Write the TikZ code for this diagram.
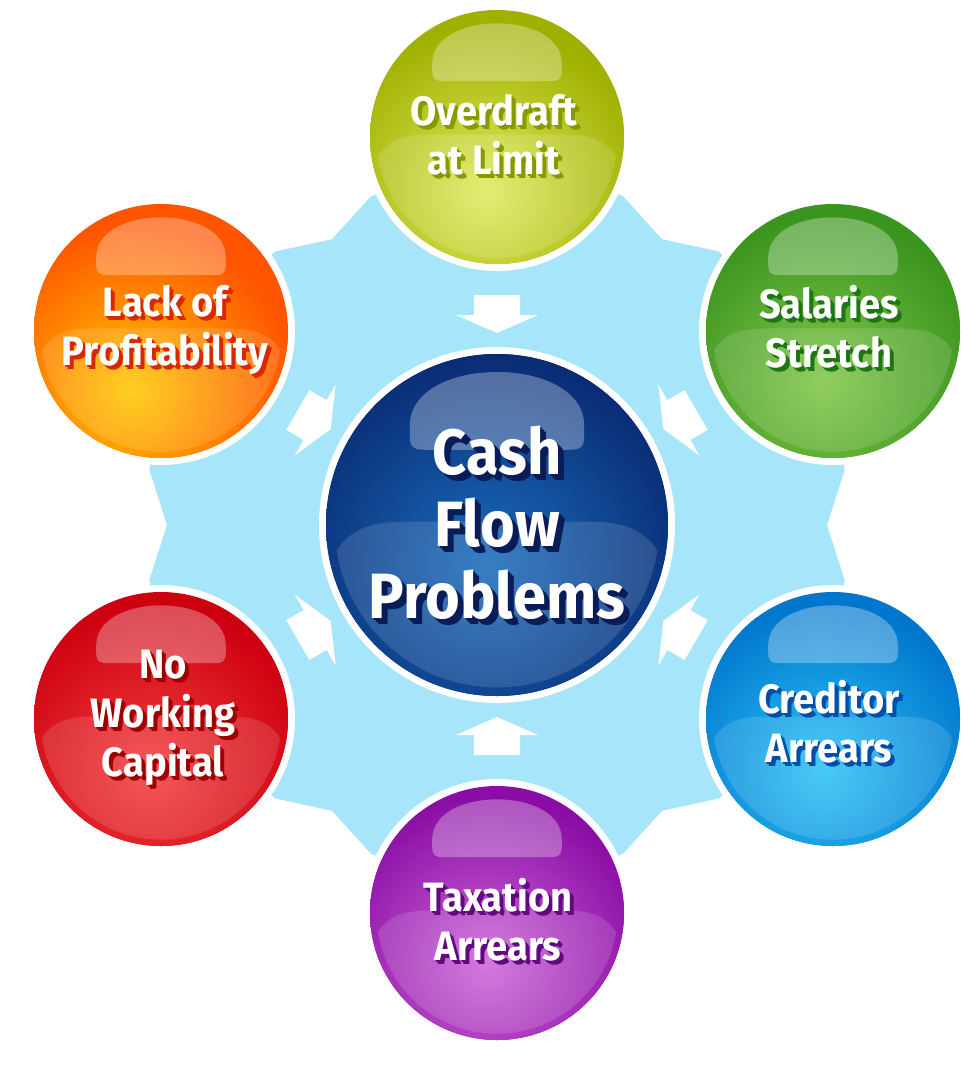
\documentclass[tikz,border=0pt]{standalone}
\usepackage{fontspec}
\newfontfamily\lblfont{Fira Sans}[FakeStretch=0.93]
\definecolor{sky}{RGB}{166,229,250}
\definecolor{oliveO}{RGB}{160,176,0}\definecolor{oliveI}{RGB}{224,234,95}\definecolor{oliveS}{RGB}{138,152,0}
\definecolor{greenO}{RGB}{58,148,30}\definecolor{greenI}{RGB}{128,198,72}\definecolor{greenS}{RGB}{28,118,18}
\definecolor{blueO}{RGB}{0,118,205}\definecolor{blueI}{RGB}{45,195,246}\definecolor{blueS}{RGB}{0,78,168}
\definecolor{purpO}{RGB}{138,14,165}\definecolor{purpI}{RGB}{206,102,216}\definecolor{purpS}{RGB}{98,8,128}
\definecolor{redO}{RGB}{205,0,15}\definecolor{redI}{RGB}{242,62,62}\definecolor{redS}{RGB}{158,0,0}
\definecolor{orO}{RGB}{255,84,0}\definecolor{orI}{RGB}{255,200,0}\definecolor{orS}{RGB}{215,40,0}
\definecolor{navyO}{RGB}{8,40,112}\definecolor{navyI}{RGB}{26,108,188}\definecolor{navyS}{RGB}{10,28,88}
% #1 name, #2 cx, #3 cy, #4 r, #5 outer, #6 inner, #7 glow dx, #8 glow dy
\newcommand\ball[8]{%
  \fill[white] (#2,#3) circle ({#4+7});
  \fill[#5] (#2,#3) circle (#4);
  \begin{scope}
    \clip (#2,#3) circle (#4);
    \shade[inner color=#6, outer color=#5] ({#2+#7},{#3+#8}) circle ({1.3*#4});
    \begin{scope}[shift={(#2,#3)}, scale=#4/100]
      \clip (0,0) circle (95);
      \fill[white, opacity=.13] (-100,30) .. controls (-92,0) and (-72,-2) .. (-50,-2) -- (50,-2) .. controls (72,-2) and (92,0) .. (100,30) -- (100,100) -- (-100,100) -- cycle;
    \end{scope}
    \fill[white, opacity=.3, shift={(#2,#3)}, scale=#4/100] (-51,-58) .. controls (-51,-100) and (51,-100) .. (51,-58) -- (51,-52) .. controls (51,-45) and (48,-44) .. (42,-44) -- (-42,-44) .. controls (-48,-44) and (-51,-45) .. (-51,-52) -- cycle;
  \end{scope}
  \coordinate (#1) at (#2,#3);
}
% #1 name, #2 x, #3 y, #4 shadow colour, #5 style, #6 offsets, #7 text
\newcommand\lbl[7]{%
  \foreach \k [count=\n] in {#6}{\node[#5, text=#4] (#1-s\n) at ({#2+\k},{#3+\k}) {#7};}
  \node[#5, text=white] (#1) at (#2,#3) {#7};
}
\begin{document}
\begin{tikzpicture}[x=1pt,y=-1pt,
  lblS/.style={font=\lblfont\bfseries\fontsize{41}{49}\selectfont, align=center, inner sep=0pt},
  lblB/.style={font=\lblfont\bfseries\fontsize{64}{72}\selectfont, align=center, inner sep=0pt},
  arr/.style={fill=white}]
\useasboundingbox (0,0) rectangle (974,1077);
\fill[white] (0,0) rectangle (974,1077);
% light blue background star
\fill[sky, shift={(497,525)}] (0:330) \foreach \g in {0,60,...,300} { -- (\g+9:352) arc[start angle=\g+9, end angle=\g+51, radius=352] -- (\g+60:330) } -- cycle;
% inward arrows
\foreach \a in {90,30,-30,-90,-150,150}{
  \fill[arr, shift={(497,525)}, rotate=\a] (192,0) -- (210,41) -- (210,23) -- (230,23) -- (230,-23) -- (210,-23) -- (210,-41) -- cycle;
}
% balls
\ball{cen}{497}{525}{171}{navyO}{navyI}{-10}{40}
\ball{top}{497}{137}{127}{oliveO}{oliveI}{-12}{55}
\ball{tr}{833}{331}{127}{greenO}{greenI}{-10}{50}
\ball{br}{833}{719}{127}{blueO}{blueI}{-10}{50}
\ball{bot}{497}{913}{127}{purpO}{purpI}{-10}{50}
\ball{bl}{161}{719}{127}{redO}{redI}{-10}{50}
\ball{tl}{161}{331}{127}{orO}{orI}{-30}{60}
% labels
\lbl{tcen}{497}{523}{navyS}{lblB}{6,4,2}{Cash\\Flow\\Problems}
\lbl{ttop}{494}{135}{oliveS}{lblS}{4,2}{Overdraft\\at Limit}
\lbl{ttr}{829}{327}{greenS}{lblS}{4,2}{Salaries\\Stretch}
\lbl{tbr}{829}{722}{blueS}{lblS}{4,2}{Creditor\\Arrears}
\lbl{tbot}{498}{920}{purpS}{lblS}{4,2}{Taxation\\Arrears}
\lbl{tbl}{163}{718}{redS}{lblS}{4,2}{No\\Working\\Capital}
\lbl{ttl}{165}{330}{orS}{lblS}{4,2}{Lack of\\Profitability}
\end{tikzpicture}
\end{document}
